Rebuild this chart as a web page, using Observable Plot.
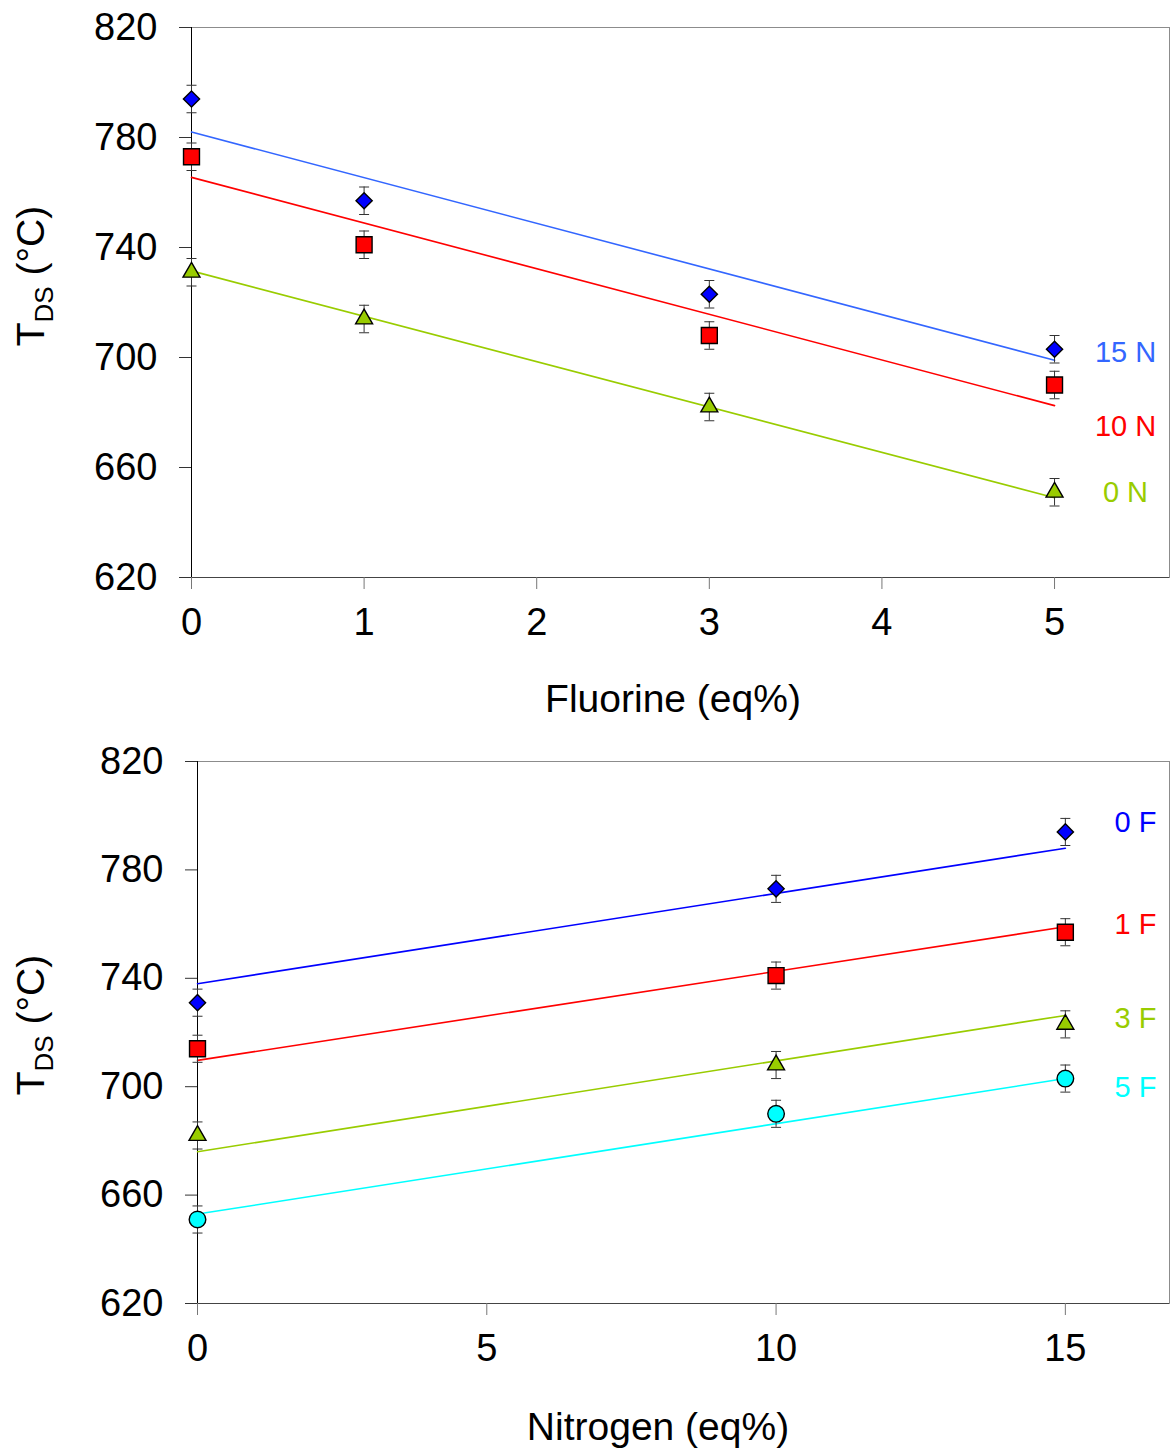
<!DOCTYPE html>
<html><head><meta charset="utf-8">
<script src="https://cdn.jsdelivr.net/npm/d3@7"></script>
<script src="https://cdn.jsdelivr.net/npm/@observablehq/plot@0.6"></script>
<style>body{margin:0;background:#fff;} svg{display:block;} #c{width:1170px;}</style>
</head><body><div id="c"></div>
<script>
// ---- data ----
const fluorine = [0, 1, 3, 5];          // eq% F (top chart x)
const nitrogen = [0, 10, 15];           // eq% N (bottom chart x)
// T_DS (°C) measured, by nitrogen level, across fluorine levels 0,1,3,5
const tN15 = [794, 757, 723, 703];
const tN10 = [773, 741, 708, 690];
const tN0  = [731, 714, 682, 651];
const errBar = 5;                        // ± °C
// fitted lines (value at first and last x)
const fitN15 = [782, 699];
const fitN10 = [765.5, 682.5];
const fitN0  = [731.5, 649];
const fitF0 = [738, 788];
const fitF1 = [709.7, 759];
const fitF3 = [676, 726.3];
const fitF5 = [653, 703];
// legend labels and their y value
const topLabels = ["15 N", "10 N", "0 N"];
const topLabelY = [701.8, 674.9, 650.9];
const botLabels = ["0 F", "1 F", "3 F", "5 F"];
const botLabelY = [797.5, 759.9, 725.2, 699.6];
const yTicks = [620, 660, 700, 740, 780, 820];
const xTicksTop = [0, 1, 2, 3, 4, 5];
const xTicksBot = [0, 5, 10, 15];

// ---- styles ----
const FONT = "Liberation Sans, Arial, Helvetica, sans-serif";
const topMarker = ["#0000ff", "#ff0000", "#99cc00"];
const topLine = ["#3366ff", "#ff0000", "#99cc00"];
const topSymbol = ["diamond2", "square", "triangle"];
const botMarker = ["#0000ff", "#ff0000", "#99cc00", "#00ffff"];
const botLine = ["#0000ff", "#ff0000", "#99cc00", "#00ffff"];
const botSymbol = ["diamond2", "square", "triangle", "circle"];
const symR = {diamond2: 7.3, square: 9, triangle: 6.3, circle: 8.3};
const cap = {draw(ctx) { ctx.moveTo(-5, 0); ctx.lineTo(5, 0); }};

// build tables
const topSeries = [tN15, tN10, tN0];
const topFits = [fitN15, fitN10, fitN0];
const topPts = topSeries.flatMap((vals, s) => vals.map((v, i) => ({s, x: fluorine[i], y: v})));
const topFitRows = topFits.flatMap((f, s) => [{s, x: fluorine[0], y: f[0]}, {s, x: fluorine[fluorine.length - 1], y: f[1]}]);
const byN = [tN0, tN10, tN15];
const botPts = [0, 1, 2, 3].flatMap(fi => nitrogen.map((n, ni) => ({s: fi, x: n, y: byN[ni][fi]})));
const botFits = [fitF0, fitF1, fitF3, fitF5];
const botFitRows = botFits.flatMap((f, s) => [{s, x: nitrogen[0], y: f[0]}, {s, x: nitrogen[nitrogen.length - 1], y: f[1]}]);

function chart({pts, fits, labels, labelY, markerC, lineC, symbols, xDomain, xTicks, marginLeft, marginTop, marginBottom, labelDx}) {
  const marks = [
    Plot.frame({stroke: "#8c8c8c"}),
    Plot.ruleY([620], {stroke: "#444"}),
    Plot.ruleX([0], {stroke: "#000"}),
    Plot.axisY({ticks: yTicks, tickSize: 12, tickPadding: 22, label: null, fontSize: 38, stroke: "#333", tickFormat: d3.format("d")}),
    Plot.axisX({ticks: xTicks, tickSize: 12, tickPadding: 19, label: null, fontSize: 38, stroke: "#777", tickFormat: d3.format("d")}),
    Plot.line(fits, {x: "x", y: "y", z: "s", stroke: d => lineC[d.s], strokeWidth: 1.6}),
    Plot.ruleX(pts, {x: "x", y1: d => d.y - errBar, y2: d => d.y + errBar, stroke: "#333", strokeWidth: 1}),
    Plot.dot(pts, {x: "x", y: d => d.y - errBar, symbol: cap, r: 5, stroke: "#333", fill: "none", strokeWidth: 1}),
    Plot.dot(pts, {x: "x", y: d => d.y + errBar, symbol: cap, r: 5, stroke: "#333", fill: "none", strokeWidth: 1}),
    Plot.dot(pts, {x: "x", y: "y", symbol: d => symbols[d.s], r: d => symR[symbols[d.s]], fill: d => markerC[d.s], stroke: "#000", strokeWidth: 1.4}),
    Plot.text(labels, {y: (d, i) => labelY[i], text: d => d, frameAnchor: "right", dx: labelDx, textAnchor: "middle", fill: (d, i) => lineC[i], fontSize: 29})
  ];
  return Plot.plot({
    width: 1170, height: 727,
    marginLeft, marginRight: 1, marginTop, marginBottom,
    style: {fontFamily: FONT, background: "#fff", color: "#000", overflow: "visible"},
    x: {domain: xDomain},
    y: {domain: [620, 820]},
    symbol: {type: "identity"},
    color: {type: "identity"},
    r: {type: "identity"},
    marks
  });
}

function addTitles(svg, xTitle, xPos, yPos, yCenter) {
  const s = d3.select(svg);
  s.append("text").attr("x", xPos).attr("y", yPos).attr("text-anchor", "middle")
    .attr("font-family", FONT).attr("font-size", 39).attr("fill", "#000").text(xTitle);
  const t = s.append("text").attr("transform", `translate(44,${yCenter}) rotate(-90)`)
    .attr("text-anchor", "middle").attr("font-family", FONT).attr("font-size", 39).attr("fill", "#000");
  t.append("tspan").text("T");
  t.append("tspan").attr("font-size", 26).attr("dy", 9).text("DS");
  t.append("tspan").attr("dy", -9).text(" (°C)");
}

const topChart = chart({pts: topPts, fits: topFitRows, labels: topLabels, labelY: topLabelY,
  markerC: topMarker, lineC: topLine, symbols: topSymbol, xDomain: [0, 5.666], xTicks: xTicksTop,
  marginLeft: 191, marginTop: 27, marginBottom: 150, labelDx: -44});
addTitles(topChart, "Fluorine (eq%)", 673, 712, 276);

const botChart = chart({pts: botPts, fits: botFitRows, labels: botLabels, labelY: botLabelY,
  markerC: botMarker, lineC: botLine, symbols: botSymbol, xDomain: [0, 16.8], xTicks: xTicksBot,
  marginLeft: 197, marginTop: 34, marginBottom: 151, labelDx: -34});
addTitles(botChart, "Nitrogen (eq%)", 658, 713, 298);

document.getElementById("c").append(topChart, botChart);
</script>
</body></html>
